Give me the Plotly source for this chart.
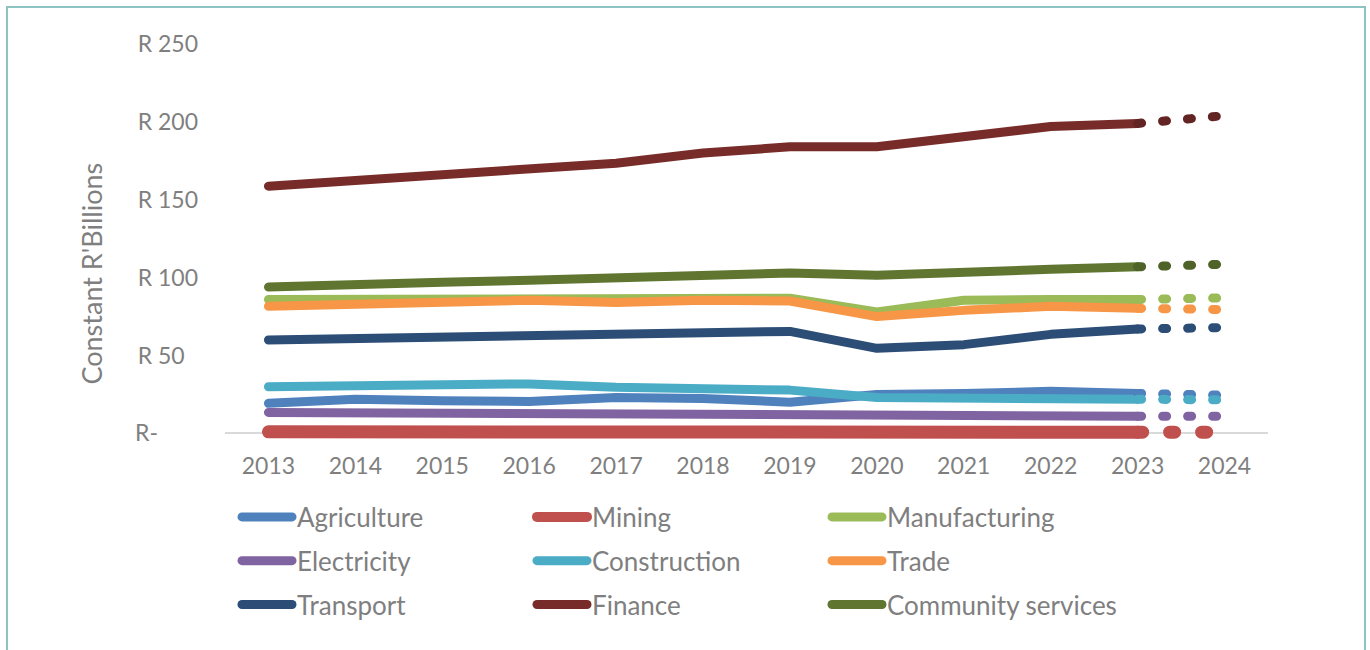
import plotly.graph_objects as go

# Gross value added by sector, constant R'billions
years = ["2013", "2014", "2015", "2016", "2017", "2018",
         "2019", "2020", "2021", "2022", "2023", "2024"]

agriculture = [19.3, 22.0, 21.0, 20.5, 23.0, 22.5, 20.0, 25.0, 25.7, 27.0, 25.7, 24.5]
mining = [1.0, 1.0, 1.0, 1.0, 1.0, 1.0, 1.0, 0.8, 0.8, 0.8, 0.8, 0.8]
manufacturing = [86.0, 86.0, 86.0, 86.3, 86.5, 86.8, 86.8, 78.0, 85.5, 86.0, 86.0, 87.0]
electricity = [13.5, 13.3, 12.8, 12.4, 12.6, 12.5, 12.2, 11.5, 11.6, 11.3, 11.0, 11.0]
construction = [30.0, 30.5, 31.0, 31.8, 29.6, 29.0, 27.8, 23.0, 22.5, 22.0, 22.0, 21.5]
trade = [81.6, 83.0, 84.0, 85.5, 84.0, 85.5, 85.0, 75.0, 79.0, 81.6, 80.3, 79.5]
transport = [60.0, 61.0, 62.3, 63.6, 64.0, 65.5, 65.5, 54.6, 57.0, 63.6, 67.0, 68.0]
finance = [158.7, 162.6, 166.0, 169.0, 173.5, 180.0, 184.0, 184.0, 191.0, 197.0, 199.0, 204.0]
community = [94.0, 96.0, 97.0, 98.3, 100.0, 101.0, 103.0, 101.5, 104.0, 105.4, 107.0, 108.6]

tick_vals = [0, 50, 100, 150, 200, 250]
tick_text = ["R-\u2007\u2007\u2007", "R 50\u2007", "R 100", "R 150", "R 200", "R 250"]

# name, values, solid colour, projection colour, width, legend column
series = [
    ("Agriculture", agriculture, "#4F81BD", "#4F81BD", 9, "legend"),
    ("Mining", mining, "#C0504D", "#C0504D", 13, "legend2"),
    ("Manufacturing", manufacturing, "#9BBB59", "#9BBB59", 9, "legend3"),
    ("Electricity", electricity, "#8064A2", "#8064A2", 9, "legend"),
    ("Construction", construction, "#4BACC6", "#4BACC6", 9, "legend2"),
    ("Trade", trade, "#F79646", "#F79646", 9, "legend3"),
    ("Transport", transport, "#2C4D75", "#2C4D75", 9, "legend"),
    ("Finance", finance, "#772C2A", "#632523", 9, "legend2"),
    ("Community services", community, "#5F7530", "#4F6228", 9, "legend3"),
]

FONT = "Lato, 'Noto Sans', sans-serif"
GREY = "#7F7F7F"

fig = go.Figure()
for name, vals, col, pcol, w, leg in series:
    # actuals
    fig.add_trace(go.Scatter(
        x=years[:11], y=vals[:11], mode="lines", name=name,
        line=dict(color=col, width=w), legend=leg, legendgroup=name,
        hoverinfo="skip"))
for name, vals, col, pcol, w, leg in series:
    # projected final year
    dash = "5px,27px" if w > 10 else "4px,21px"
    fig.add_trace(go.Scatter(
        x=years[10:], y=vals[10:], mode="lines", showlegend=False,
        line=dict(color=pcol, width=w, dash=dash), legend=leg,
        legendgroup=name, hoverinfo="skip"))

W, H = 1370, 650
left, right, top = 225, 1268, 44
ymin, ymax = -10, 250
px_per = (433 - 44) / 250
bottom = top + (ymax - ymin) * px_per
plot_w = right - left
plot_h = bottom - top


def px_x(p):
    return (p - left) / plot_w


def px_y(p):
    return (bottom - p) / plot_h


leg_common = dict(orientation="v", yanchor="top", xanchor="left",
                  font=dict(family=FONT, size=26, color=GREY),
                  bgcolor="rgba(0,0,0,0)", itemwidth=50,
                  tracegroupgap=7, traceorder="grouped", itemclick=False)

fig.update_layout(
    width=W, height=H,
    margin=dict(l=left, r=W - right, t=top, b=H - bottom, autoexpand=False),
    paper_bgcolor="white", plot_bgcolor="white",
    showlegend=True,
    legend=dict(x=px_x(237), y=px_y(493), **leg_common),
    legend2=dict(x=px_x(532), y=px_y(493), **leg_common),
    legend3=dict(x=px_x(827), y=px_y(493), **leg_common),
    xaxis=dict(type="category", range=[-0.5, 11.5], showline=False,
               showgrid=False, ticks="",
               tickfont=dict(family=FONT, size=23, color=GREY),
               ticklabelstandoff=1, fixedrange=True),
    yaxis=dict(range=[ymin, ymax], tickvals=tick_vals, ticktext=tick_text,
               showgrid=False, showline=False, ticks="",
               zeroline=True, zerolinecolor="#D9D9D9", zerolinewidth=2,
               tickfont=dict(family=FONT, size=23, color=GREY),
               ticklabelstandoff=26,
               title=dict(text="Constant R'Billions\u2003\u2003\u00a0\u00a0\u200b",
                          font=dict(family=FONT, size=27, color=GREY),
                          standoff=24),
               fixedrange=True),
    shapes=[dict(type="rect", xref="paper", yref="paper",
                 x0=px_x(7), x1=px_x(1365), y0=px_y(700), y1=px_y(7),
                 line=dict(color="#8CC4C4", width=2), layer="below")],
)

round_caps = """
var gd = document.getElementById('{plot_id}');
function roundCaps() {
  gd.querySelectorAll('path.js-line').forEach(function (p) {
    p.style.strokeLinecap = 'round';
    p.style.strokeLinejoin = 'round';
  });
}
roundCaps();
gd.on('plotly_afterplot', roundCaps);
"""

fig.write_html("out.html", post_script=round_caps,
               config={"displayModeBar": False})
